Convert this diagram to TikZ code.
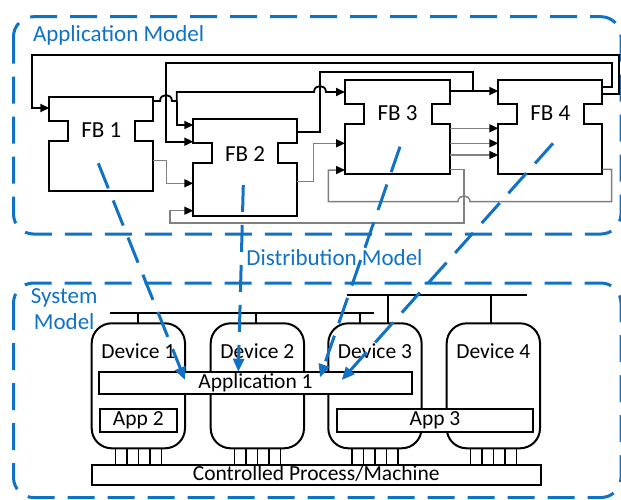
\documentclass[tikz,border=0pt]{standalone}
\usepackage{fontspec}
\setmainfont{Carlito}
\usetikzlibrary{arrows.meta,calc}
\definecolor{mblue}{RGB}{16,114,196}
\definecolor{lgray}{RGB}{128,128,128}
\newcommand\fbshape[1]{%
  \draw[fbline] (#1.north west) -- (#1.north east) -- ([yshift=-24pt]#1.north east)
    -- ([xshift=-18.5pt,yshift=-24pt]#1.north east) -- ([xshift=-18.5pt,yshift=-44pt]#1.north east)
    -- ([yshift=-44pt]#1.north east) -- (#1.south east) -- (#1.south west)
    -- ([yshift=-44pt]#1.north west) -- ([xshift=18.5pt,yshift=-44pt]#1.north west)
    -- ([xshift=18.5pt,yshift=-24pt]#1.north west) -- ([yshift=-24pt]#1.north west) -- cycle;}
\begin{document}
\begin{tikzpicture}[x=1pt,y=-1pt,
  every node/.style={inner sep=0pt, outer sep=0pt},
  lbl/.style={font=\fontsize{21.5}{24}\selectfont, anchor=base},
  fblbl/.style={font=\fontsize{23}{26}\selectfont, anchor=base},
  bluelbl/.style={font=\fontsize{23}{26}\selectfont, text=mblue, anchor=base},
  fbbox/.style={anchor=north west, minimum width=104pt},
  fbline/.style={draw=black, line width=2pt, fill=white},
  wire/.style={line width=1.8pt, draw=black},
  gwire/.style={line width=1.5pt, draw=lgray},
  inarrow/.style={-{Triangle[length=9pt,width=8pt,color=black]}},
  devbox/.style={draw, line width=2pt, rounded corners=20pt, fill=white, anchor=north west,
    minimum width=93.3pt, minimum height=125pt},
  barbox/.style={draw, line width=2pt, fill=white, anchor=north west,
    font=\fontsize{21.5}{24}\selectfont, text height=14pt, text depth=4pt},
  busline/.style={line width=2pt, draw=black},
  ticker/.style={line width=1.6pt, draw=black},
  mdlbox/.style={draw=mblue, line width=3pt, dash pattern=on 27pt off 13pt, rounded corners=20pt},
  distarrow/.style={draw=mblue, line width=3pt, dash pattern=on 27pt off 13pt,
    -{Triangle[length=13pt,width=11pt]}}
]
\useasboundingbox (0,0) rectangle (621,499);

% model boxes
\draw[mdlbox] (13.5,16.7) rectangle (621,234);
\draw[mdlbox] (13.5,283) rectangle (621,497.5);
\node[bluelbl, anchor=base west] (appm) at (33,41.7) {Application Model};
\node[bluelbl] (sys1) at (64.2,303.3) {System};
\node[bluelbl] (sys2) at (64.2,329.3) {Model};
\node[bluelbl] (distm) at (334.5,265) {Distribution Model};

% function blocks
\node[fbbox, minimum height=94.3pt] (fb1) at (49.3,96.7) {};
\node[fbbox, minimum height=96.7pt, minimum width=103.4pt] (fb2) at (193.3,119.3) {};
\node[fbbox, minimum height=94pt, minimum width=105pt] (fb3) at (345,80) {};
\node[fbbox, minimum height=94pt] (fb4) at (498.3,80) {};
\fbshape{fb1}\fbshape{fb2}\fbshape{fb3}\fbshape{fb4}
\node[fblbl] (fb1t) at ([yshift=-41pt]fb1.north) {FB 1};
\node[fblbl] (fb2t) at ([yshift=-42pt]fb2.north) {FB 2};
\node[fblbl] (fb3t) at ([yshift=-40pt]fb3.north) {FB 3};
\node[fblbl] (fb4t) at ([yshift=-40pt]fb4.north) {FB 4};

% ports
\coordinate (fb1i1) at ([yshift=-11.3pt]fb1.north west);
\coordinate (fb1o1) at ([yshift=-4.3pt]fb1.north east);
\coordinate (fb1o2) at ([yshift=-63.6pt]fb1.north east);
\coordinate (fb2i1) at ([yshift=-5.7pt]fb2.north west);
\coordinate (fb2i2) at ([yshift=-22.4pt]fb2.north west);
\coordinate (fb2i3) at ([yshift=-64pt]fb2.north west);
\coordinate (fb2i4) at ([yshift=-91.4pt]fb2.north west);
\coordinate (fb2o1) at ([yshift=-12.4pt]fb2.north east);
\coordinate (fb2o2) at ([yshift=-62.4pt]fb2.north east);
\coordinate (fb3i1) at ([yshift=-12pt]fb3.north west);
\coordinate (fb3i2) at ([yshift=-63.3pt]fb3.north west);
\coordinate (fb3i3) at ([yshift=-90pt]fb3.north west);
\coordinate (fb3o1) at ([yshift=-11pt]fb3.north east);
\coordinate (fb3o2) at ([yshift=-48.3pt]fb3.north east);
\coordinate (fb3o3) at ([yshift=-63.3pt]fb3.north east);
\coordinate (fb3o4) at ([yshift=-75pt]fb3.north east);
\coordinate (fb3o5) at ([yshift=-89.3pt]fb3.north east);
\coordinate (fb4i1) at ([yshift=-11pt]fb4.north west);
\coordinate (fb4i2) at ([yshift=-48.3pt]fb4.north west);
\coordinate (fb4i3) at ([yshift=-63.3pt]fb4.north west);
\coordinate (fb4i4) at ([yshift=-75pt]fb4.north west);
\coordinate (fb4o1) at ([yshift=-6.7pt]fb4.north east);
\coordinate (fb4o2) at ([yshift=-14pt]fb4.north east);
\coordinate (fb4o3) at ([yshift=-89.3pt]fb4.north east);

% black connections
\draw[wire, inarrow] (fb4o2) -| (619.3,55) -| (31.7,108) -- (fb1i1);
\draw[wire, inarrow] (fb4o1) -| (611.7,63.3) -| (166,141.7) -- (fb2i2);
\draw[wire] (fb1o1) -- (160,101) .. controls (160,93) and (172,93) .. (172,101) -- (176.7,101);
\draw[wire, inarrow] (176.7,101) |- (fb2i1);
\draw[wire, inarrow] (176.7,101) |- (314,92) .. controls (314,84) and (326,84) .. (326,92) -- (fb3i1);
\draw[wire] (fb2o1) -| (320,71.7) -| (473.3,91);
\draw[wire, inarrow] (fb3o1) -- (fb4i1);

% gray connections
\draw[gwire, inarrow] (fb1o2) -| (166.7,183.3) -- (fb2i3);
\draw[gwire, inarrow] (fb2o2) -| (313.3,143.3) -- (fb3i2);
\draw[gwire, inarrow] (fb3o5) -| (464,223) -| (170,210.7) -- (fb2i4);
\draw[gwire, inarrow] (fb4o3) -| (611.7,201.7) -- (470,201.7)
   .. controls (470,194) and (458,194) .. (458,201.7) -| (328.3,170) -- (fb3i3);
\foreach \k in {2,3,4} \draw[gwire, inarrow] (fb3o\k) -- (fb4i\k);

% devices
\node[devbox] (dev1) at (91.7,323.3) {};
\node[devbox] (dev2) at (210.7,323.3) {};
\node[devbox] (dev3) at (328.3,323.3) {};
\node[devbox] (dev4) at (446.7,323.3) {};
\node[lbl] (dev1t) at ([yshift=-35pt]dev1.north) {Device 1};
\node[lbl] (dev2t) at ([yshift=-35pt]dev2.north) {Device 2};
\node[lbl] (dev3t) at ([yshift=-35pt]dev3.north) {Device 3};
\node[lbl] (dev4t) at ([yshift=-35pt]dev4.north) {Device 4};

% application bars
\node[barbox, minimum width=312.4pt, minimum height=22.6pt] (app1) at (99.3,371.7) {Application 1};
\node[barbox, minimum width=76.7pt, minimum height=22.7pt] (app2) at (100,409.3) {App 2};
\node[barbox, minimum width=196.6pt, minimum height=23pt] (app3) at (336.7,409.3) {App 3};
\node[barbox, minimum width=449pt, minimum height=20pt] (proc) at (91.7,465) {Controlled Process/Machine};

% network buses
\coordinate (busA1) at (346.7,295); \coordinate (busA2) at (526.7,295);
\coordinate (busB1) at (110,312.7); \coordinate (busB2) at (374,312.7);
\draw[busline] (busA1) -- (busA2);
\draw[busline] (busB1) -- (busB2);
\draw[busline] ($(dev1.north)+(-0.6,0)$) -- ++(0,-10.6);
\draw[busline] ($(dev2.north)+(-1.8,0)$) -- ++(0,-10.6);
\draw[busline] ($(dev3.north)+(-15,0)$) -- ++(0,-10.6);
\draw[busline] ($(dev3.north)+(13.3,0)$) -- ++(0,-28.3);
\draw[busline] ($(dev4.north)+(-2.6,0)$) -- ++(0,-28.3);

% device - process links
\foreach \d in {dev1,dev2,dev3,dev4}
  \foreach \dx in {-23,-11.5,0,11.5,23}
    \draw[ticker] ($(\d.south)+(\dx,0)$) -- ($(\d.south)+(\dx,16.7)$);

% distribution arrows
\coordinate (d1a) at (98.3,163.3); \coordinate (d1b) at (185,380);
\coordinate (d2a) at (243.3,185);  \coordinate (d2b) at (238.3,371.7);
\coordinate (d3a) at (400,146.7);  \coordinate (d3b) at (320,377.3);
\coordinate (d4a) at (553,143.3);  \coordinate (d4b) at (341.7,380);
\draw[distarrow] (d1a) -- (d1b);
\draw[distarrow] (d2a) -- (d2b);
\draw[distarrow] (d3a) -- (d3b);
\draw[distarrow] (d4a) -- (d4b);
\end{tikzpicture}
\end{document}
